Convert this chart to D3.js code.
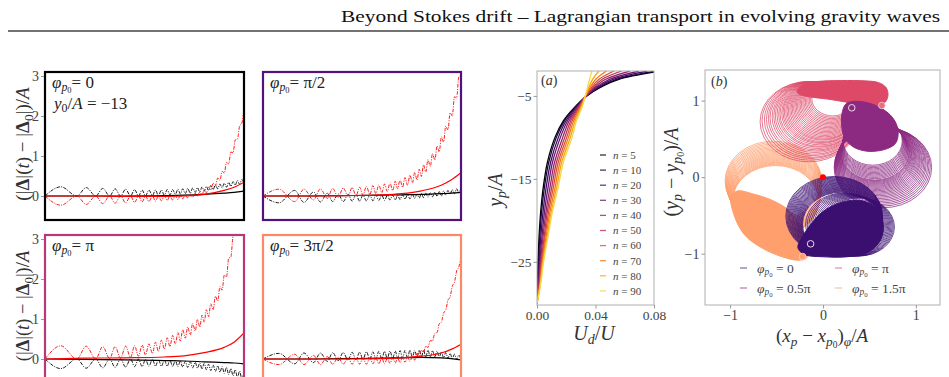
<!DOCTYPE html>
<html>
<head>
<meta charset="utf-8">
<title>Beyond Stokes drift</title>
<script src="https://cdn.jsdelivr.net/npm/d3@7"></script>
<style>
  body { margin: 0; background: #fff; }
  svg { display: block; }
  svg text { font-family: 'Liberation Serif', 'DejaVu Serif', serif; }
</style>
</head>
<body>
<svg id="fig" width="949" height="377"></svg>
<script>
  // ---- left panels: oscillation times (nodes / peaks) and solid-curve times
  var nodeT = [0, 0.16, 0.255, 0.325, 0.38, 0.43, 0.47, 0.505, 0.54, 0.57, 0.6, 0.628, 0.655, 0.68, 0.705, 0.73, 0.755, 0.778, 0.8, 0.822, 0.845, 0.868, 0.89, 0.912, 0.934, 0.956, 0.978, 1.0];
  var peakT = [0.08, 0.207, 0.29, 0.352, 0.405, 0.45, 0.488, 0.522, 0.555, 0.585, 0.614, 0.641, 0.668, 0.692, 0.717, 0.742, 0.766, 0.789, 0.811, 0.833, 0.856, 0.879, 0.901, 0.923, 0.945, 0.967, 0.989];
  var solidT = [0, 0.2, 0.4, 0.6, 0.7, 0.8, 0.9, 0.95, 1.0];

  // phi = 0
  var blackNode1 = [0,0,0,0,0,0,0,0,0.01,0.01, 0.02,0.03,0.04,0.05,0.06,0.07,0.09,0.1, 0.12,0.14,0.16,0.18,0.2,0.22,0.24,0.27,0.29,0.31];
  var blackPeak1 = [0.23,0.21,0.19,0.18,0.17,0.16,0.15,0.15,0.15,0.15, 0.16,0.16,0.17,0.18,0.19,0.2,0.21,0.23, 0.24,0.26,0.28,0.3,0.32,0.34,0.36,0.39,0.41];
  var redNode1 = [0,0,0,0,0,0,0,0,0,0, 0,0,0.01,0.02,0.03,0.05,0.07,0.1, 0.15,0.22,0.32,0.45,0.62,0.84,1.1,1.4,1.75,2.15];
  var redPeak1 = [-0.23,-0.21,-0.19,-0.18,-0.17,-0.16,-0.15,-0.14,-0.13,-0.12, -0.11,-0.1,-0.09,-0.07,-0.05,-0.03,0.0,0.03, 0.08,0.15,0.25,0.39,0.57,0.8,1.08,1.42,1.82];
  var blackSolid1 = [0, 0, 0, 0.01, 0.02, 0.04, 0.07, 0.09, 0.12];
  var redSolid1 = [0, 0, -0.01, -0.01, 0, 0.04, 0.14, 0.22, 0.34];

  // phi = pi/2
  var blackNode2 = [0,0.14,0.1,0.07,0.05,0.04,0.03,0.02,0.02,0.02, 0.02,0.02,0.02,0.02,0.03,0.03,0.04,0.05, 0.06,0.07,0.08,0.1,0.11,0.13,0.14,0.16,0.18,0.2];
  var blackPeak2 = [-0.17,-0.16,-0.15,-0.14,-0.14,-0.13,-0.13,-0.12,-0.12,-0.11, -0.11,-0.1,-0.1,-0.09,-0.08,-0.07,-0.06,-0.05, -0.04,-0.03,-0.02,-0.01,0,0.02,0.04,0.06,0.08];
  var redNode2 = [0,-0.14,-0.1,-0.06,-0.03,0,0.01,0.02,0.04,0.06, 0.08,0.11,0.14,0.18,0.22,0.27,0.33,0.4, 0.49,0.6,0.74,0.9,1.1,1.35,1.65,2.0,2.45,3.0];
  var redPeak2 = [0.17,0.17,0.18,0.19,0.2,0.21,0.22,0.24,0.26,0.28, 0.3,0.33,0.37,0.41,0.46,0.52,0.59,0.67, 0.78,0.91,1.06,1.25,1.48,1.75,2.08,2.48,2.98];
  var blackSolid2 = [0, 0, 0.01, 0.02, 0.03, 0.04, 0.06, 0.07, 0.09];
  var redSolid2 = [0, 0, 0.01, 0.03, 0.06, 0.13, 0.27, 0.4, 0.58];

  // phi = pi
  var blackNode3 = [0,0,0,0,0,0,0,-0.01,-0.01,-0.02, -0.02,-0.03,-0.04,-0.05,-0.06,-0.07,-0.08,-0.1, -0.11,-0.13,-0.15,-0.17,-0.19,-0.21,-0.24,-0.27,-0.3,-0.33];
  var blackPeak3 = [-0.24,-0.23,-0.22,-0.21,-0.2,-0.19,-0.19,-0.18,-0.18,-0.18, -0.18,-0.19,-0.19,-0.2,-0.21,-0.22,-0.23,-0.25, -0.27,-0.29,-0.31,-0.33,-0.36,-0.39,-0.42,-0.46,-0.5];
  var redNode3 = [0,0,0,0.01,0.02,0.04,0.07,0.1,0.14,0.19, 0.25,0.31,0.38,0.45,0.52,0.6,0.7,0.8, 0.92,1.06,1.23,1.45,1.72,2.05,2.55,3.15,3.8,4.5];
  var redPeak3 = [0.33,0.32,0.31,0.31,0.32,0.33,0.35,0.38,0.42,0.47, 0.53,0.59,0.66,0.73,0.8,0.89,0.99,1.1, 1.23,1.38,1.57,1.81,2.1,2.52,3.07,3.7,4.37];
  var blackSolid3 = [0, -0.01, -0.02, -0.04, -0.05, -0.07, -0.09, -0.1, -0.12];
  var redSolid3 = [0, 0.02, 0.03, 0.05, 0.08, 0.16, 0.29, 0.42, 0.65];

  // phi = 3pi/2
  var blackNode4 = [0,-0.12,-0.09,-0.06,-0.04,-0.03,-0.02,-0.01,0,0, 0.01,0.01,0.02,0.02,0.03,0.03,0.04,0.04, 0.05,0.05,0.05,0.05,0.04,0.03,0.02,0.01,-0.01,-0.03];
  var blackPeak4 = [0.14,0.15,0.15,0.16,0.16,0.17,0.17,0.18,0.18,0.19, 0.19,0.2,0.2,0.21,0.21,0.22,0.22,0.22, 0.22,0.22,0.21,0.2,0.18,0.16,0.14,0.12,0.1];
  var redNode4 = [0,0.12,0.09,0.06,0.04,0.03,0.02,0.02,0.02,0.02, 0.02,0.02,0.02,0.03,0.04,0.05,0.07,0.14, 0.22,0.32,0.46,0.65,0.88,1.15,1.47,1.82,2.2,2.55];
  var redPeak4 = [-0.14,-0.14,-0.14,-0.13,-0.13,-0.13,-0.13,-0.13,-0.12,-0.12, -0.12,-0.11,-0.1,-0.09,-0.08,-0.06,-0.03,0.08, 0.17,0.29,0.45,0.66,0.92,1.22,1.55,1.92,2.3];
  var blackSolid4 = [0, 0, 0.01, 0.02, 0.03, 0.04, 0.03, 0.01, -0.02];
  var redSolid4 = [0, 0, 0, 0.01, 0.03, 0.07, 0.15, 0.24, 0.37];

  var leftTicks = [0, 1, 2, 3];

  // ---- panel (a): U_d/U profiles at fixed depths
  var nValues = [5, 10, 20, 30, 40, 50, 60, 70, 80, 90];
  var yLevels = [-30, -28, -25, -22, -19, -16, -13, -10, -8, -6.5, -5, -4, -3, -2];
  var ud5  = [0, .0002, .0007, .0014, .0025, .0043, .0071, .0123, .018, .025, .034, .043, .056, .085];
  var ud10 = [0, .0004, .001, .0019, .0031, .0051, .008, .0132, .0187, .0254, .0339, .0423, .0544, .0812];
  var ud20 = [0, .0006, .0015, .0026, .0041, .0063, .0093, .0146, .0198, .0261, .0338, .0413, .052, .0755];
  var ud30 = [0, .0008, .0019, .0034, .0051, .0076, .0106, .016, .0209, .0268, .0337, .0403, .0496, .0698];
  var ud40 = [0, .0011, .0024, .0041, .0061, .0089, .012, .0176, .022, .0275, .0335, .0392, .047, .0636];
  var ud50 = [0, .0013, .0029, .0049, .007, .0101, .0133, .019, .0231, .0281, .0334, .0382, .0446, .0579];
  var ud60 = [0, .0016, .0033, .0055, .0079, .0112, .0145, .0203, .0241, .0287, .0333, .0372, .0424, .0527];
  var ud70 = [0, .0018, .0037, .0062, .0088, .0124, .0157, .0215, .0251, .0293, .0332, .0363, .0402, .0475];
  var ud80 = [0, .002, .0041, .0069, .0097, .0135, .0169, .0228, .0261, .03, .0331, .0354, .038, .0423];
  var ud90 = [0, .0022, .0045, .0075, .0105, .0145, .018, .024, .027, .0305, .033, .0345, .036, .0375];
  var aXTicks = [0, 0.04, 0.08];
  var aYTicks = [-5, -15, -25];

  // ---- panel (b): orbit loops (centre, radius) and dense cores
  var pinkCx = [-0.152,-0.142,-0.128,-0.114,-0.104,-0.095,-0.084,-0.075,-0.066,-0.057,-0.048,-0.039,-0.030,-0.025,-0.017,-0.009,-0.004,0.004,0.012,0.018,0.023,0.029,0.034,0.04,0.045,0.051,0.056,0.062,0.067,0.073,0.078,0.084,0.089,0.095,0.1,0.105];
  var pinkCy = [0.725,0.736,0.747,0.755,0.766,0.775,0.786,0.795,0.803,0.812,0.821,0.827,0.836,0.845,0.851,0.858,0.867,0.873,0.880,0.889,0.897,0.906,0.914,0.923,0.931,0.94,0.948,0.957,0.965,0.974,0.982,0.991,0.999,1.008,1.016,1.025];
  var pinkR  = [0.525,0.514,0.503,0.495,0.484,0.475,0.464,0.455,0.447,0.438,0.429,0.423,0.414,0.405,0.399,0.392,0.383,0.377,0.370,0.362,0.353,0.345,0.336,0.328,0.319,0.311,0.302,0.294,0.285,0.277,0.268,0.26,0.251,0.243,0.234,0.225];
  var pinkDenseX = [-0.28,-0.2,-0.05,0.2,0.45,0.6,0.68,0.7,0.67,0.6,0.45,0.25,0.05,-0.15,-0.25];
  var pinkDenseY = [1.12,1.21,1.25,1.262,1.258,1.235,1.17,1.07,0.98,0.935,0.93,0.98,1.02,1.05,1.08];

  var purpleCx = [0.645,0.64,0.634,0.629,0.623,0.619,0.614,0.609,0.605,0.6,0.597,0.593,0.589,0.585,0.582,0.579,0.576,0.573,0.57,0.568,0.566,0.564,0.561,0.56,0.558,0.556,0.554,0.552,0.55,0.548,0.546,0.544,0.542,0.54,0.538,0.536];
  var purpleCy = [0.125,0.138,0.15,0.161,0.172,0.183,0.194,0.203,0.214,0.223,0.233,0.242,0.251,0.259,0.268,0.276,0.284,0.291,0.298,0.305,0.312,0.318,0.324,0.33,0.342,0.354,0.366,0.378,0.39,0.402,0.414,0.426,0.438,0.45,0.462,0.474];
  var purpleR  = [0.525,0.516,0.507,0.498,0.489,0.481,0.473,0.464,0.457,0.449,0.442,0.435,0.428,0.421,0.415,0.409,0.403,0.397,0.391,0.386,0.381,0.376,0.371,0.367,0.362,0.358,0.354,0.35,0.346,0.342,0.338,0.334,0.33,0.326,0.322,0.318];
  var purpleDenseX = [0.21,0.25,0.33,0.45,0.58,0.7,0.78,0.81,0.78,0.66,0.47,0.32,0.23,0.2];
  var purpleDenseY = [0.86,0.96,0.99,0.98,0.93,0.84,0.72,0.58,0.44,0.36,0.34,0.4,0.52,0.7];

  var indigoCx = [0.12,0.125,0.13,0.134,0.138,0.142,0.146,0.15,0.153,0.157,0.16,0.164,0.167,0.171,0.173,0.176,0.179,0.182,0.185,0.188,0.191,0.193,0.195,0.197,0.225,0.24,0.255,0.27,0.285,0.3,0.315,0.33,0.345,0.36,0.375,0.39];
  var indigoCy = [-0.51,-0.515,-0.52,-0.525,-0.53,-0.535,-0.54,-0.545,-0.55,-0.555,-0.559,-0.564,-0.568,-0.573,-0.577,-0.582,-0.586,-0.59,-0.594,-0.598,-0.602,-0.606,-0.61,-0.614,-0.618,-0.621,-0.624,-0.627,-0.63,-0.633,-0.636,-0.639,-0.642,-0.645,-0.648,-0.651];
  var indigoR  = [0.52,0.515,0.51,0.505,0.5,0.495,0.49,0.485,0.48,0.476,0.471,0.467,0.462,0.458,0.453,0.449,0.445,0.441,0.437,0.433,0.429,0.425,0.421,0.417,0.412,0.409,0.406,0.403,0.4,0.397,0.394,0.391,0.388,0.385,0.382,0.379];
  var indigoDenseX = [-0.27,-0.22,-0.12,0.0,0.15,0.32,0.48,0.6,0.65,0.62,0.5,0.3,0.0,-0.2];
  var indigoDenseY = [-0.92,-0.78,-0.6,-0.45,-0.35,-0.3,-0.33,-0.45,-0.62,-0.82,-0.97,-1.035,-1.04,-1.01];

  var peachCx = [-0.534,-0.532,-0.529,-0.527,-0.524,-0.523,-0.521,-0.52,-0.518,-0.517,-0.515,-0.514,-0.513,-0.513,-0.512,-0.512,-0.511,-0.511,-0.51,-0.51,-0.509,-0.51,-0.51,-0.511];
  var peachCy = [-0.05,-0.065,-0.081,-0.095,-0.11,-0.123,-0.137,-0.15,-0.163,-0.175,-0.187,-0.198,-0.21,-0.22,-0.231,-0.241,-0.251,-0.26,-0.27,-0.278,-0.287,-0.295,-0.303,-0.31];
  var peachR  = [0.52,0.517,0.515,0.512,0.51,0.507,0.505,0.502,0.5,0.497,0.495,0.492,0.49,0.487,0.485,0.482,0.48,0.477,0.475,0.472,0.47,0.467,0.465,0.462];
  var peachDenseX = [-0.99,-0.95,-0.84,-0.65,-0.44,-0.27,-0.18,-0.16,-0.2,-0.27,-0.38,-0.55,-0.75,-0.92];
  var peachDenseY = [-0.25,-0.52,-0.76,-0.93,-1.04,-1.085,-1.06,-0.95,-0.78,-0.58,-0.42,-0.3,-0.22,-0.18];

  var startX = [0.31, -0.133], startY = [0.906, -0.871];
  var endX = [0.634, -0.22], endY = [0.937, -1.037];
  var bTicks = [-1, 0, 1];

  var SERIF = "'Liberation Serif', 'DejaVu Serif', serif";
  var svg = d3.select('#fig');

  // small helper for LaTeX-ish labels (sub / subsub levels)
  function mtext(g, x, y, parts, size, opt) {
    opt = opt || {};
    var t = g.append('text').attr('x', x).attr('y', y).attr('font-family', SERIF)
      .attr('font-size', size).attr('fill', opt.color || '#222');
    if (opt.anchor) t.attr('text-anchor', opt.anchor);
    if (opt.rotate) t.attr('transform', 'rotate(-90,' + x + ',' + y + ')');
    var scale = [1, 0.7, 0.5], shift = [0, 0.2, 0.32], cur = 0;
    parts.forEach(function (p) {
      var lvl = p.s || 0;
      var sp = t.append('tspan').text(p.t).attr('font-size', size * scale[lvl]);
      var off = shift[lvl] * size;
      if (off !== cur) sp.attr('dy', off - cur);
      cur = off;
      if (p.i) sp.attr('font-style', 'italic');
      if (p.b) sp.attr('font-weight', 'bold');
    });
    return t;
  }

  function styleAxis(a, size) {
    a.attr('font-family', SERIF);
    a.select('.domain').remove();
    a.selectAll('line').attr('stroke', '#999');
    a.selectAll('text').attr('font-size', size).attr('fill', '#444').attr('font-family', SERIF);
  }
  var minus = function (d) { return d < 0 ? '\u2212' + Math.abs(d) : String(d); };

  // header
  svg.append('text').attr('x', 341).attr('y', 22).attr('font-family', SERIF)
    .attr('font-size', 16).attr('fill', '#111')
    .attr('textLength', 599).attr('lengthAdjust', 'spacingAndGlyphs')
    .text('Beyond Stokes drift \u2013 Lagrangian transport in evolving gravity waves');
  svg.append('line').attr('x1', 8).attr('x2', 949).attr('y1', 31).attr('y2', 31)
    .attr('stroke', '#444').attr('stroke-width', 1.3);

  // ---------- left panels
  var panels = [
    { x: 45, y: 72, w: 199, h: 148, col: '#000000', ticks: true,
      bn: blackNode1, bp: blackPeak1, rn: redNode1, rp: redPeak1, bs: blackSolid1, rs: redSolid1, label: '0' },
    { x: 263, y: 72, w: 198, h: 148, col: '#51127c', ticks: false,
      bn: blackNode2, bp: blackPeak2, rn: redNode2, rp: redPeak2, bs: blackSolid2, rs: redSolid2, label: '\u03c0/2' },
    { x: 45, y: 235, w: 199, h: 148, col: '#b73779', ticks: true,
      bn: blackNode3, bp: blackPeak3, rn: redNode3, rp: redPeak3, bs: blackSolid3, rs: redSolid3, label: '\u03c0' },
    { x: 263, y: 235, w: 198, h: 148, col: '#fc8961', ticks: false,
      bn: blackNode4, bp: blackPeak4, rn: redNode4, rp: redPeak4, bs: blackSolid4, rs: redSolid4, label: '3\u03c0/2' }
  ];

  function oscTable(nodes, peaks) {
    var out = [];
    nodeT.forEach(function (t, i) {
      out.push([t, nodes[i]]);
      if (i < peakT.length) out.push([peakT[i], peaks[i]]);
    });
    return out;
  }

  panels.forEach(function (p, k) {
    var x = d3.scaleLinear().domain([0, 1]).range([p.x, p.x + p.w]);
    var y = d3.scaleLinear().domain([-0.6, 3.1]).range([p.y + p.h, p.y]);
    var g = svg.append('g');
    g.append('clipPath').attr('id', 'clipL' + k).append('rect')
      .attr('x', p.x).attr('y', p.y).attr('width', p.w).attr('height', p.h);
    var c = g.append('g').attr('clip-path', 'url(#clipL' + k + ')');
    var line = d3.line().x(function (d) { return x(d[0]); }).y(function (d) { return y(d[1]); })
      .curve(d3.curveMonotoneX);

    c.append('path').datum(solidT.map(function (t, i) { return [t, p.bs[i]]; }))
      .attr('d', line).attr('fill', 'none').attr('stroke', '#000').attr('stroke-width', 1.2);
    c.append('path').datum(oscTable(p.bn, p.bp))
      .attr('d', line).attr('fill', 'none').attr('stroke', '#000')
      .attr('stroke-width', 0.9).attr('stroke-dasharray', '3.5,1.3,1,1.3');
    c.append('path').datum(solidT.map(function (t, i) { return [t, p.rs[i]]; }))
      .attr('d', line).attr('fill', 'none').attr('stroke', '#ff0000').attr('stroke-width', 1.2);
    c.append('path').datum(oscTable(p.rn, p.rp))
      .attr('d', line).attr('fill', 'none').attr('stroke', '#ff0000')
      .attr('stroke-width', 0.9).attr('stroke-dasharray', '3.5,1.3,1,1.3');

    g.append('rect').attr('x', p.x).attr('y', p.y).attr('width', p.w).attr('height', p.h)
      .attr('fill', 'none').attr('stroke', p.col).attr('stroke-width', 2.2);

    if (p.ticks) {
      var ax = g.append('g').attr('transform', 'translate(' + (p.x - 1) + ',0)')
        .call(d3.axisLeft(y).tickValues(leftTicks).tickSize(3).tickPadding(2).tickFormat(d3.format('d')));
      styleAxis(ax, 14);
    }

    mtext(g, p.x + 7, p.y + 16, [{ t: '\u03c6', i: 1 }, { t: 'p', i: 1, s: 1 }, { t: '0', s: 2 }, { t: '= ' + p.label }], 17);
    if (k === 0) {
      mtext(g, p.x + 9, p.y + 37, [{ t: 'y', i: 1 }, { t: '0', s: 1 }, { t: '/' }, { t: 'A', i: 1 }, { t: ' = \u221213' }], 17);
    }
  });

  var leftLabel = [{ t: '(|' }, { t: '\u0394', b: 1 }, { t: '|(' }, { t: 't', i: 1 }, { t: ') \u2212 |' },
    { t: '\u0394', b: 1 }, { t: '0', s: 1 }, { t: '|)/' }, { t: 'A', i: 1 }];
  mtext(svg, 29, 144, leftLabel, 19, { anchor: 'middle', rotate: true, color: '#333' });
  mtext(svg, 29, 306, leftLabel, 18.5, { anchor: 'middle', rotate: true, color: '#333' });

  // ---------- panel (a)
  var aBox = { x: 537, y: 71, w: 117, h: 234 };
  var ax0 = d3.scaleLinear().domain([0, 0.08]).range([aBox.x, aBox.x + aBox.w]);
  var ay0 = d3.scaleLinear().domain([-30.2, -2]).range([aBox.y + aBox.h, aBox.y]);
  var ga = svg.append('g');
  ga.append('clipPath').attr('id', 'clipA').append('rect')
    .attr('x', aBox.x).attr('y', aBox.y).attr('width', aBox.w).attr('height', aBox.h);
  var udList = [ud5, ud10, ud20, ud30, ud40, ud50, ud60, ud70, ud80, ud90];
  var infer = function (i) { return d3.interpolateInferno(i / 10); };
  var aLine = d3.line().x(function (d) { return ax0(d[0]); }).y(function (d) { return ay0(d[1]); })
    .curve(d3.curveCatmullRom);
  var ac = ga.append('g').attr('clip-path', 'url(#clipA)');
  udList.forEach(function (arr, i) {
    ac.append('path').datum(arr.map(function (u, j) { return [u, yLevels[j]]; }))
      .attr('d', aLine).attr('fill', 'none').attr('stroke', infer(i)).attr('stroke-width', 1.3);
  });
  ga.append('rect').attr('x', aBox.x).attr('y', aBox.y).attr('width', aBox.w).attr('height', aBox.h)
    .attr('fill', 'none').attr('stroke', '#b0b0b0').attr('stroke-width', 1);
  var axA = ga.append('g').attr('transform', 'translate(0,' + (aBox.y + aBox.h) + ')')
    .call(d3.axisBottom(ax0).tickValues(aXTicks).tickSize(3.5).tickPadding(2).tickFormat(d3.format('.2f')));
  var ayA = ga.append('g').attr('transform', 'translate(' + aBox.x + ',0)')
    .call(d3.axisLeft(ay0).tickValues(aYTicks).tickSize(3.5).tickPadding(2).tickFormat(minus));
  styleAxis(axA, 13.5);
  styleAxis(ayA, 13.5);
  mtext(ga, 541, 85, [{ t: '(' }, { t: 'a', i: 1 }, { t: ')' }], 14, { color: '#333' });
  nValues.forEach(function (n, i) {
    var yy = 155 + i * 15.1;
    ga.append('line').attr('x1', 600).attr('x2', 606).attr('y1', yy).attr('y2', yy)
      .attr('stroke', infer(i)).attr('stroke-opacity', 0.8).attr('stroke-width', 1.3);
    mtext(ga, 613, yy + 3.8, [{ t: 'n', i: 1 }, { t: ' = ' + n }], 11, { color: '#444' });
  });
  mtext(ga, 502, 190, [{ t: 'y', i: 1 }, { t: 'p', i: 1, s: 1 }, { t: '/' }, { t: 'A', i: 1 }], 20, { anchor: 'middle', rotate: true, color: '#333' });
  mtext(ga, 594, 340, [{ t: 'U', i: 1 }, { t: 'd', i: 1, s: 1 }, { t: '/' }, { t: 'U', i: 1 }], 20, { anchor: 'middle', color: '#333' });

  // ---------- panel (b)
  var bBox = { x: 705, y: 70, w: 235, h: 235 };
  var bx = d3.scaleLinear().domain([-1.27, 1.26]).range([bBox.x, bBox.x + bBox.w]);
  var by = d3.scaleLinear().domain([-1.67, 1.40]).range([bBox.y + bBox.h, bBox.y]);
  var gb = svg.append('g');
  gb.append('clipPath').attr('id', 'clipB').append('rect')
    .attr('x', bBox.x).attr('y', bBox.y).attr('width', bBox.w).attr('height', bBox.h);
  var bc = gb.append('g').attr('clip-path', 'url(#clipB)');
  var families = [
    { col: '#fe9f6d', cx: peachCx, cy: peachCy, r: peachR, dx: peachDenseX, dy: peachDenseY },
    { col: '#de4968', cx: pinkCx, cy: pinkCy, r: pinkR, dx: pinkDenseX, dy: pinkDenseY },
    { col: '#8c2981', cx: purpleCx, cy: purpleCy, r: purpleR, dx: purpleDenseX, dy: purpleDenseY },
    { col: '#3b0f70', cx: indigoCx, cy: indigoCy, r: indigoR, dx: indigoDenseX, dy: indigoDenseY }
  ];
  var area = d3.line().x(function (d) { return bx(d[0]); }).y(function (d) { return by(d[1]); })
    .curve(d3.curveCatmullRomClosed);
  families.forEach(function (f) {
    var loops = f.cx.map(function (c, i) { return { cx: c, cy: f.cy[i], r: f.r[i] }; });
    bc.append('g').selectAll('ellipse').data(loops).join('ellipse')
      .attr('cx', function (d) { return bx(d.cx); })
      .attr('cy', function (d) { return by(d.cy); })
      .attr('rx', function (d) { return bx(d.cx + d.r) - bx(d.cx); })
      .attr('ry', function (d) { return by(d.cy) - by(d.cy + d.r); })
      .attr('fill', 'none').attr('stroke', f.col).attr('stroke-width', 0.75);
    bc.append('path').datum(f.dx.map(function (v, i) { return [v, f.dy[i]]; }))
      .attr('d', area).attr('fill', f.col).attr('stroke', f.col).attr('stroke-width', 1);
  });
  bc.selectAll('circle.start').data(startX).join('circle')
    .attr('cx', function (d) { return bx(d); }).attr('cy', function (d, i) { return by(startY[i]); })
    .attr('r', 3.3).attr('fill', 'none').attr('stroke', '#f1dbe6').attr('stroke-width', 1);
  bc.selectAll('circle.end').data(endX).join('circle')
    .attr('cx', function (d) { return bx(d); }).attr('cy', function (d, i) { return by(endY[i]); })
    .attr('r', 3.3).attr('fill', function (d, i) { return i ? '#fe9f6d' : '#e4707e'; })
    .attr('stroke', '#fbd0d0').attr('stroke-width', 0.8);
  bc.append('circle').attr('cx', bx(0)).attr('cy', by(0)).attr('r', 3).attr('fill', '#ff0000');

  gb.append('rect').attr('x', bBox.x).attr('y', bBox.y).attr('width', bBox.w).attr('height', bBox.h)
    .attr('fill', 'none').attr('stroke', '#b0b0b0').attr('stroke-width', 1);
  var axB = gb.append('g').attr('transform', 'translate(0,' + (bBox.y + bBox.h) + ')')
    .call(d3.axisBottom(bx).tickValues(bTicks).tickSize(3.5).tickPadding(2).tickFormat(minus));
  var ayB = gb.append('g').attr('transform', 'translate(' + bBox.x + ',0)')
    .call(d3.axisLeft(by).tickValues(bTicks).tickSize(3.5).tickPadding(2).tickFormat(minus));
  styleAxis(axB, 14);
  styleAxis(ayB, 14);
  mtext(gb, 711, 86, [{ t: '(' }, { t: 'b', i: 1 }, { t: ')' }], 14, { color: '#333' });

  var legB = [
    { x: 740, y: 268, col: '#3b0f70', v: '0' },
    { x: 740, y: 288, col: '#8c2981', v: '0.5\u03c0' },
    { x: 835, y: 268, col: '#de4968', v: '\u03c0' },
    { x: 835, y: 288, col: '#fe9f6d', v: '1.5\u03c0' }
  ];
  legB.forEach(function (l) {
    gb.append('line').attr('x1', l.x).attr('x2', l.x + 7).attr('y1', l.y).attr('y2', l.y)
      .attr('stroke', l.col).attr('stroke-opacity', 0.5).attr('stroke-width', 1.5);
    mtext(gb, l.x + 17, l.y + 4.5, [{ t: '\u03c6', i: 1 }, { t: 'p', i: 1, s: 1 }, { t: '0', s: 2 }, { t: ' = ' + l.v }], 13.5, { color: '#444' });
  });
  mtext(gb, 678, 172, [{ t: '(' }, { t: 'y', i: 1 }, { t: 'p', i: 1, s: 1 }, { t: ' \u2212 ' }, { t: 'y', i: 1 }, { t: 'p', i: 1, s: 1 }, { t: '0', s: 2 }, { t: ')/' }, { t: 'A', i: 1 }], 20, { anchor: 'middle', rotate: true, color: '#333' });
  mtext(gb, 822, 342, [{ t: '(' }, { t: 'x', i: 1 }, { t: 'p', i: 1, s: 1 }, { t: ' \u2212 ' }, { t: 'x', i: 1 }, { t: 'p', i: 1, s: 1 }, { t: '0', s: 2 }, { t: ')' }, { t: '\u03c6', i: 1, s: 1 }, { t: '/' }, { t: 'A', i: 1 }], 19, { anchor: 'middle', color: '#333' });
</script>
</body>
</html>
